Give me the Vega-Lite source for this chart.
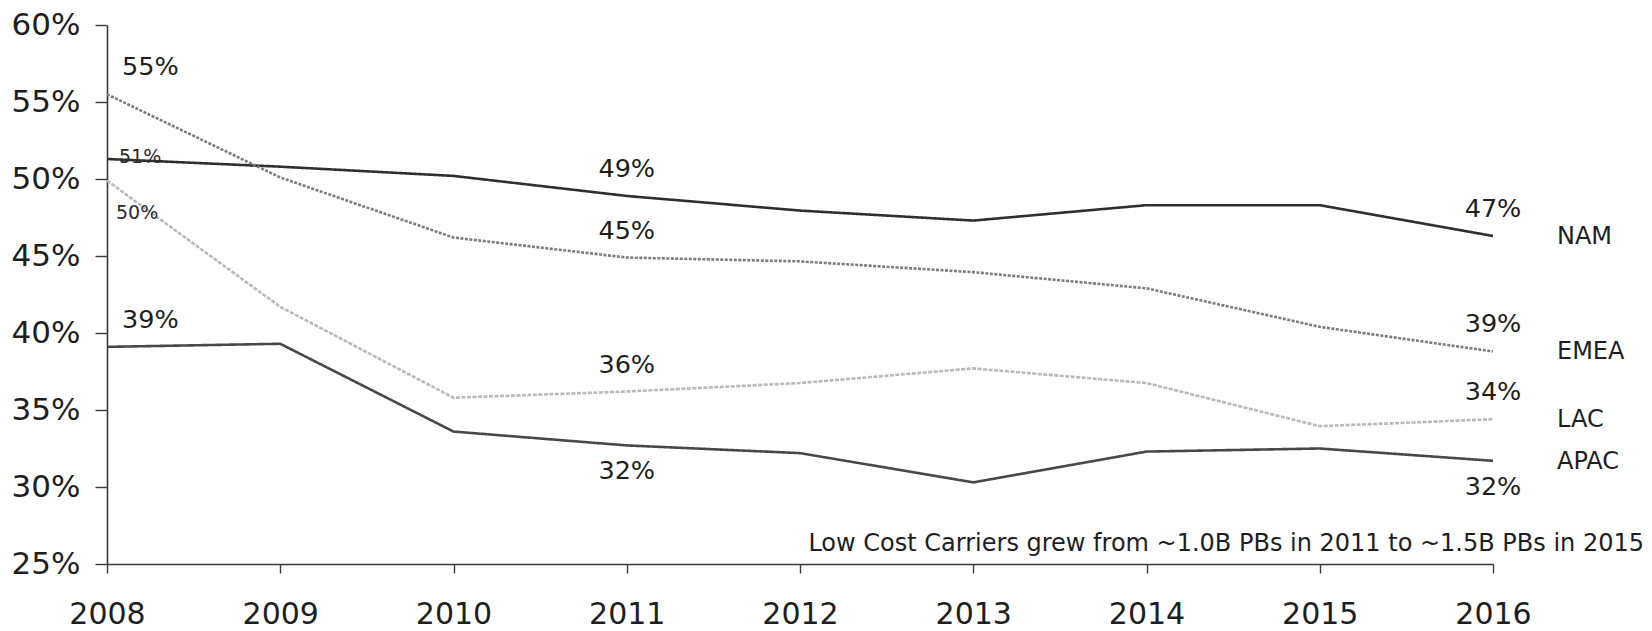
{
  "$schema": "https://vega.github.io/schema/vega-lite/v6.json",
  "width": 1386,
  "height": 539,
  "autosize": {"type": "none"},
  "padding": {"left": 107, "top": 25, "right": 159, "bottom": 67},
  "background": "white",
  "config": {"view": {"stroke": null}, "font": "DejaVu Sans", "axis": {"grid": false}},
  "data": {
    "values": [
      {"region": "NAM", "year": 2008, "share": 0.513, "label": "51%", "pos": "sR"},
      {"region": "NAM", "year": 2009, "share": 0.508},
      {"region": "NAM", "year": 2010, "share": 0.502},
      {"region": "NAM", "year": 2011, "share": 0.489, "label": "49%", "pos": "a"},
      {"region": "NAM", "year": 2012, "share": 0.4795},
      {"region": "NAM", "year": 2013, "share": 0.473},
      {"region": "NAM", "year": 2014, "share": 0.483},
      {"region": "NAM", "year": 2015, "share": 0.483},
      {"region": "NAM", "year": 2016, "share": 0.463, "label": "47%", "pos": "a"},
      {"region": "EMEA", "year": 2008, "share": 0.555, "label": "55%", "pos": "aL"},
      {"region": "EMEA", "year": 2009, "share": 0.501},
      {"region": "EMEA", "year": 2010, "share": 0.462},
      {"region": "EMEA", "year": 2011, "share": 0.449, "label": "45%", "pos": "a"},
      {"region": "EMEA", "year": 2012, "share": 0.4465},
      {"region": "EMEA", "year": 2013, "share": 0.4395},
      {"region": "EMEA", "year": 2014, "share": 0.429},
      {"region": "EMEA", "year": 2015, "share": 0.404},
      {"region": "EMEA", "year": 2016, "share": 0.388, "label": "39%", "pos": "a"},
      {"region": "LAC", "year": 2008, "share": 0.499, "label": "50%", "pos": "sB"},
      {"region": "LAC", "year": 2009, "share": 0.417},
      {"region": "LAC", "year": 2010, "share": 0.358},
      {"region": "LAC", "year": 2011, "share": 0.362, "label": "36%", "pos": "a"},
      {"region": "LAC", "year": 2012, "share": 0.3675},
      {"region": "LAC", "year": 2013, "share": 0.377},
      {"region": "LAC", "year": 2014, "share": 0.3675},
      {"region": "LAC", "year": 2015, "share": 0.3395},
      {"region": "LAC", "year": 2016, "share": 0.344, "label": "34%", "pos": "a"},
      {"region": "APAC", "year": 2008, "share": 0.391, "label": "39%", "pos": "aL"},
      {"region": "APAC", "year": 2009, "share": 0.393},
      {"region": "APAC", "year": 2010, "share": 0.336},
      {"region": "APAC", "year": 2011, "share": 0.327, "label": "32%", "pos": "b"},
      {"region": "APAC", "year": 2012, "share": 0.322},
      {"region": "APAC", "year": 2013, "share": 0.303},
      {"region": "APAC", "year": 2014, "share": 0.323},
      {"region": "APAC", "year": 2015, "share": 0.325},
      {"region": "APAC", "year": 2016, "share": 0.317, "label": "32%", "pos": "b"}
    ]
  },
  "encoding": {
    "x": {
      "field": "year", "type": "quantitative",
      "scale": {"domain": [2008, 2016], "nice": false, "zero": false},
      "axis": {
        "title": null, "values": [2008, 2009, 2010, 2011, 2012, 2013, 2014, 2015, 2016],
        "format": "d", "labelFontSize": 30, "labelColor": "#1e1e1e", "labelPadding": 26,
        "tickSize": 9, "tickColor": "#3a3a3a", "domainColor": "#3a3a3a", "domainWidth": 1.6,
        "tickWidth": 1.4, "labelFlush": false
      }
    },
    "y": {
      "field": "share", "type": "quantitative",
      "scale": {"domain": [0.25, 0.6], "nice": false, "zero": false},
      "axis": {
        "title": null, "values": [0.25, 0.3, 0.35, 0.4, 0.45, 0.5, 0.55, 0.6],
        "format": ".0%", "labelFontSize": 31, "labelColor": "#1e1e1e", "labelPadding": 15,
        "tickSize": 12, "tickColor": "#3a3a3a", "domainColor": "#3a3a3a", "domainWidth": 1.6,
        "tickWidth": 1.4
      }
    }
  },
  "layer": [
    {
      "mark": {"type": "line", "strokeWidth": 2.6, "clip": false},
      "encoding": {
        "color": {
          "field": "region", "type": "nominal",
          "scale": {"domain": ["NAM", "EMEA", "LAC", "APAC"], "range": ["#2f2f2f", "#7c7c7c", "#b9b9b9", "#484848"]},
          "legend": null
        },
        "strokeDash": {
          "field": "region", "type": "nominal",
          "scale": {"domain": ["NAM", "EMEA", "LAC", "APAC"], "range": [[1, 0], [3, 1.5], [4, 1.5], [1, 0]]},
          "legend": null
        }
      }
    },
    {
      "transform": [{"filter": "datum.pos === 'a'"}],
      "mark": {"type": "text", "fontSize": 25.5, "color": "#1e1e1e", "align": "center", "baseline": "middle", "dy": -27},
      "encoding": {"text": {"field": "label"}}
    },
    {
      "transform": [{"filter": "datum.pos === 'b'"}],
      "mark": {"type": "text", "fontSize": 25.5, "color": "#1e1e1e", "align": "center", "baseline": "middle", "dy": 26},
      "encoding": {"text": {"field": "label"}}
    },
    {
      "transform": [{"filter": "datum.pos === 'aL'"}],
      "mark": {"type": "text", "fontSize": 25.5, "color": "#1e1e1e", "align": "left", "baseline": "middle", "dx": 15, "dy": -27},
      "encoding": {"text": {"field": "label"}}
    },
    {
      "transform": [{"filter": "datum.pos === 'sR'"}],
      "mark": {"type": "text", "fontSize": 19, "color": "#2a2a2a", "align": "left", "baseline": "middle", "dx": 12, "dy": -2},
      "encoding": {"text": {"field": "label"}}
    },
    {
      "transform": [{"filter": "datum.pos === 'sB'"}],
      "mark": {"type": "text", "fontSize": 19, "color": "#2a2a2a", "align": "left", "baseline": "middle", "dx": 9, "dy": 32},
      "encoding": {"text": {"field": "label"}}
    },
    {
      "transform": [{"filter": "datum.year === 2016"}],
      "mark": {"type": "text", "fontSize": 24, "color": "#1e1e1e", "align": "left", "baseline": "middle", "dx": 64, "dy": 1},
      "encoding": {"text": {"field": "region"}}
    },
    {
      "data": {"values": [{"note": "Low Cost Carriers grew from ~1.0B PBs in 2011 to ~1.5B PBs in 2015", "year": 2016, "share": 0.25}]},
      "mark": {"type": "text", "fontSize": 24, "color": "#1e1e1e", "align": "right", "baseline": "middle", "dx": 151, "dy": -20},
      "encoding": {"text": {"field": "note"}}
    }
  ]
}
